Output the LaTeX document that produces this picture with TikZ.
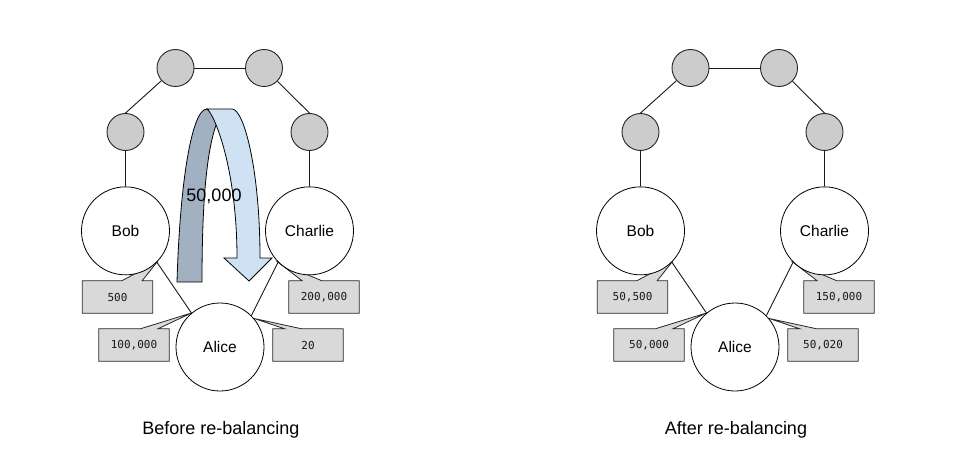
\documentclass[tikz,border=0pt]{standalone}
\usepackage{fontspec}
\setmainfont{Liberation Sans}
\newfontfamily\numfont{DejaVu Sans Mono}
\usetikzlibrary{positioning,calc,backgrounds}
\definecolor{hopgray}{RGB}{204,204,204}
\definecolor{boxgray}{RGB}{217,217,217}
\definecolor{backblue}{RGB}{162,177,194}
\definecolor{frontblue}{RGB}{207,226,243}
\tikzset{
  hop/.style={circle,draw=black!85,fill=hopgray,minimum size=37pt,inner sep=0pt,line width=0.9pt},
  peer/.style={circle,draw=black,fill=white,minimum size=88pt,inner sep=0pt,line width=0.8pt,
               font=\fontsize{15.5}{18}\selectfont},
  bal/.style={rectangle,minimum width=70pt,minimum height=32pt,inner sep=0pt,
              font=\numfont\fontsize{11}{13}\selectfont,text=black!90},
  balfill/.style={draw=black!85,fill=boxgray,line width=0.8pt},
  ln/.style={draw=black!90,line width=0.9pt},
  caption/.style={font=\fontsize{18}{21}\selectfont,anchor=base},
  band/.style={draw=black,line width=0.8pt},
}
% box with a pointed tail: box, tip, tail base from / to (fraction of top edge)
\newcommand{\baltail}[4]{%
  \path[balfill] (#1.north west) -- ($(#1.north west)!#3!(#1.north east)$) -- (#2)
    -- ($(#1.north west)!#4!(#1.north east)$) -- (#1.north east) -- (#1.south east)
    -- (#1.south west) -- cycle;}

\begin{document}
\begin{tikzpicture}[x=1pt,y=-1pt]
  \useasboundingbox (0,0) rectangle (957,473);

  % before re-balancing
  \node[hop] (g1) at (175.5,68) {};
  \node[hop] (g2) at (264,68) {};
  \node[hop] (g0) at (125.5,132) {};
  \node[hop] (g3) at (309.5,132) {};
  \node[peer,below=35.5pt of g0] (bob) {Bob};
  \node[peer,below=35.5pt of g3] (charlie) {Charlie};
  \node[peer] (alice) at (220,347) {Alice};
  \node[bal] (b1) at (117.5,297) {500};
  \node[bal] (b2) at (324,297) {200,000};
  \node[bal] (b3) at (134,345) {100,000};
  \node[bal] (b4) at (308,345) {20};
  \draw[ln] (g1) -- (g2);
  \draw[ln] (g1) -- (g0.north);
  \draw[ln] (g2) -- (g3.north);
  \draw[ln] (g0) -- (bob);
  \draw[ln] (g3) -- (charlie);
  \draw[ln] (bob.-45) -- (alice.130);
  \draw[ln] (charlie.-135) -- (alice.45);
  \begin{scope}[on background layer]
    \baltail{b1}{bob.-45}{0.56}{0.85}
    \baltail{b2}{charlie.-135}{0.19}{0.47}
    \baltail{b3}{alice.130}{0.59}{0.84}
    \baltail{b4}{alice.40}{0.17}{0.41}
  \end{scope}
  % the u-turn arrow
  \filldraw[band,fill=backblue] (177,282) .. controls (180,180) and (192,109) .. (207,109)
    -- (222,112) .. controls (208,135) and (202,190) .. (202,282) -- cycle;
  \filldraw[band,fill=frontblue] (207,109) -- (232,109) .. controls (244,109) and (260,170) .. (260,258)
    -- (272,258) -- (249,281) -- (224,258) -- (237,258)
    .. controls (237,170) and (215,115) .. (207,109) -- cycle;
  \node[font=\fontsize{18}{21}\selectfont] (amt) at (214,196) {50,000};
  \node[caption] (capb) at (221,434) {Before re-balancing};

  % after re-balancing
  \begin{scope}[xshift=515pt,name prefix=after-]
    \node[hop] (g1) at (175.5,68) {};
    \node[hop] (g2) at (264,68) {};
    \node[hop] (g0) at (125.5,132) {};
    \node[hop] (g3) at (309.5,132) {};
    \node[peer,below=35.5pt of g0] (bob) {Bob};
    \node[peer,below=35.5pt of g3] (charlie) {Charlie};
    \node[peer] (alice) at (220,347) {Alice};
    \node[bal] (b1) at (117.5,297) {50,500};
    \node[bal] (b2) at (324,297) {150,000};
    \node[bal] (b3) at (134,345) {50,000};
    \node[bal] (b4) at (308,345) {50,020};
    \draw[ln] (g1) -- (g2);
    \draw[ln] (g1) -- (g0.north);
    \draw[ln] (g2) -- (g3.north);
    \draw[ln] (g0) -- (bob);
    \draw[ln] (g3) -- (charlie);
    \draw[ln] (bob.-45) -- (alice.130);
    \draw[ln] (charlie.-135) -- (alice.45);
    \begin{scope}[on background layer]
      \baltail{b1}{bob.-45}{0.56}{0.85}
      \baltail{b2}{charlie.-135}{0.19}{0.47}
      \baltail{b3}{alice.130}{0.59}{0.84}
      \baltail{b4}{alice.40}{0.17}{0.41}
    \end{scope}
    \node[caption] (capa) at (221,434) {After re-balancing};
  \end{scope}
\end{tikzpicture}
\end{document}
